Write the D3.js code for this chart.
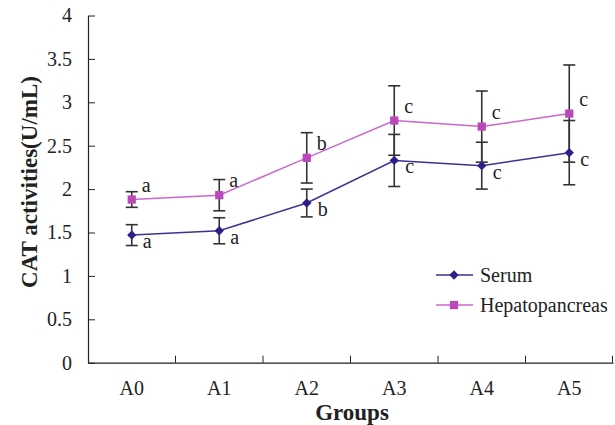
<!DOCTYPE html>
<html>
<head>
<meta charset="utf-8">
<script src="https://cdn.jsdelivr.net/npm/d3@7"></script>
<style>
  html, body { margin: 0; background: #fff; overflow: hidden; }
  svg { display: block; }
</style>
</head>
<body>
<svg></svg>
<script>
/* chart data */
var groups = ["A0", "A1", "A2", "A3", "A4", "A5"];
var serum = [1.47, 1.52, 1.84, 2.33, 2.27, 2.42];
var serumErr = [0.12, 0.15, 0.16, 0.30, 0.27, 0.37];
var serumLetters = ["a", "a", "b", "c", "c", "c"];
var hepato = [1.88, 1.93, 2.36, 2.79, 2.72, 2.87];
var hepatoErr = [0.09, 0.18, 0.29, 0.40, 0.41, 0.56];
var hepatoLetters = ["a", "a", "b", "c", "c", "c"];
var yTicks = [0, 0.5, 1, 1.5, 2, 2.5, 3, 3.5, 4];

var FONT = "Liberation Serif";

/* svg setting */
var svgWidth = 615;
var svgHeight = 425;
var plot = {left: 88, right: 613, top: 15.5, bottom: 362.7};

var svg = d3.select("svg")
    .attr("width", svgWidth)
    .attr("height", svgHeight)
    .attr("font-family", FONT);

var x = d3.scaleBand()
    .domain(groups)
    .range([plot.left, plot.right]);

var y = d3.scaleLinear()
    .domain([0, 4])
    .range([plot.bottom, plot.top]);

var series = [
  {name: "Serum", values: serum, err: serumErr, letters: serumLetters,
   line: "#3b3396", fill: "#2e2088", shape: d3.symbolDiamond2, size: 55, ldx: 11, ldy: 13},
  {name: "Hepatopancreas", values: hepato, err: hepatoErr, letters: hepatoLetters,
   line: "#cc66cc", fill: "#bb48bb", shape: d3.symbolSquare, size: 68, ldx: 10, ldy: -8}
];

/* axes */
var yAxis = svg.append("g")
    .attr("transform", translate(plot.left, 0))
    .call(d3.axisLeft(y)
      .tickValues(yTicks)
      .tickFormat(d3.format("~g"))
      .tickSizeInner(-7)
      .tickSizeOuter(0)
      .tickPadding(16));

var xAxis = svg.append("g")
    .attr("transform", translate(0, plot.bottom))
    .call(d3.axisBottom(x)
      .tickSize(0)
      .tickSizeOuter(0)
      .tickPadding(18));

// tick marks sit between the groups
var bounds = groups.slice(1).map(function(g){ return x(g); }).concat([plot.right - 0.5]);
xAxis.selectAll(".bound")
    .data(bounds)
    .enter()
    .append("line")
    .attr("class", "bound")
    .attr("x1", function(d){ return d; })
    .attr("x2", function(d){ return d; })
    .attr("y1", 0)
    .attr("y2", -7)
    .attr("stroke", "#222");

[yAxis, xAxis].forEach(function(a){
  a.attr("font-family", FONT).attr("font-size", 20);
  a.select(".domain").attr("stroke", "#222").attr("stroke-width", 1.2);
  a.selectAll("text").attr("fill", "#222");
});
yAxis.selectAll(".tick line").attr("stroke", "#222");

/* axis titles */
svg.append("text")
    .attr("transform", translate(37, 182) + " rotate(-90)")
    .attr("text-anchor", "middle")
    .attr("font-size", 23)
    .attr("font-weight", "bold")
    .attr("fill", "#222")
    .text("CAT activities(U/mL)");

svg.append("text")
    .attr("x", 352)
    .attr("y", 420)
    .attr("text-anchor", "middle")
    .attr("font-size", 23)
    .attr("font-weight", "bold")
    .attr("fill", "#222")
    .text("Groups");

function cx(i){ return x(groups[i]) + x.bandwidth() / 2; }

/* error bars */
series.forEach(function(s){
  var g = svg.append("g");
  s.values.forEach(function(v, i){
    var top = y(v + s.err[i]), bot = y(v - s.err[i]);
    g.append("line")
        .attr("x1", cx(i)).attr("x2", cx(i))
        .attr("y1", top).attr("y2", bot)
        .attr("stroke", "#333").attr("stroke-width", 1.6);
    [top, bot].forEach(function(yy){
      g.append("line")
          .attr("x1", cx(i) - 6).attr("x2", cx(i) + 6)
          .attr("y1", yy).attr("y2", yy)
          .attr("stroke", "#333").attr("stroke-width", 1.6);
    });
  });
});

/* lines, markers, letters */
series.forEach(function(s){
  var line = d3.line()
      .x(function(d, i){ return cx(i); })
      .y(function(d){ return y(d); });

  svg.append("path")
      .datum(s.values)
      .attr("d", line)
      .attr("fill", "none")
      .attr("stroke", s.line)
      .attr("stroke-width", 1.5);

  svg.append("g").selectAll("path")
      .data(s.values)
      .enter()
      .append("path")
      .attr("transform", function(d, i){ return translate(cx(i), y(d)); })
      .attr("d", d3.symbol().type(s.shape).size(s.size))
      .attr("fill", s.fill);

  svg.append("g").selectAll("text")
      .data(s.letters)
      .enter()
      .append("text")
      .attr("x", function(d, i){ return cx(i) + s.ldx; })
      .attr("y", function(d, i){ return y(s.values[i]) + s.ldy; })
      .attr("font-size", 20)
      .attr("fill", "#222")
      .text(function(d){ return d; });
});

/* legend */
var legend = svg.append("g");
series.forEach(function(s, i){
  var ly = 275 + i * 30;
  legend.append("line")
      .attr("x1", 436).attr("x2", 473)
      .attr("y1", ly).attr("y2", ly)
      .attr("stroke", s.line).attr("stroke-width", 1.5);
  legend.append("path")
      .attr("transform", translate(454, ly))
      .attr("d", d3.symbol().type(s.shape).size(s.size))
      .attr("fill", s.fill);
  legend.append("text")
      .attr("x", 480)
      .attr("y", ly + 7)
      .attr("font-size", 20)
      .attr("fill", "#222")
      .text(s.name);
});

function translate(x, y) {
  return "translate(" + x + "," + y + ")";
}
</script>
</body>
</html>
